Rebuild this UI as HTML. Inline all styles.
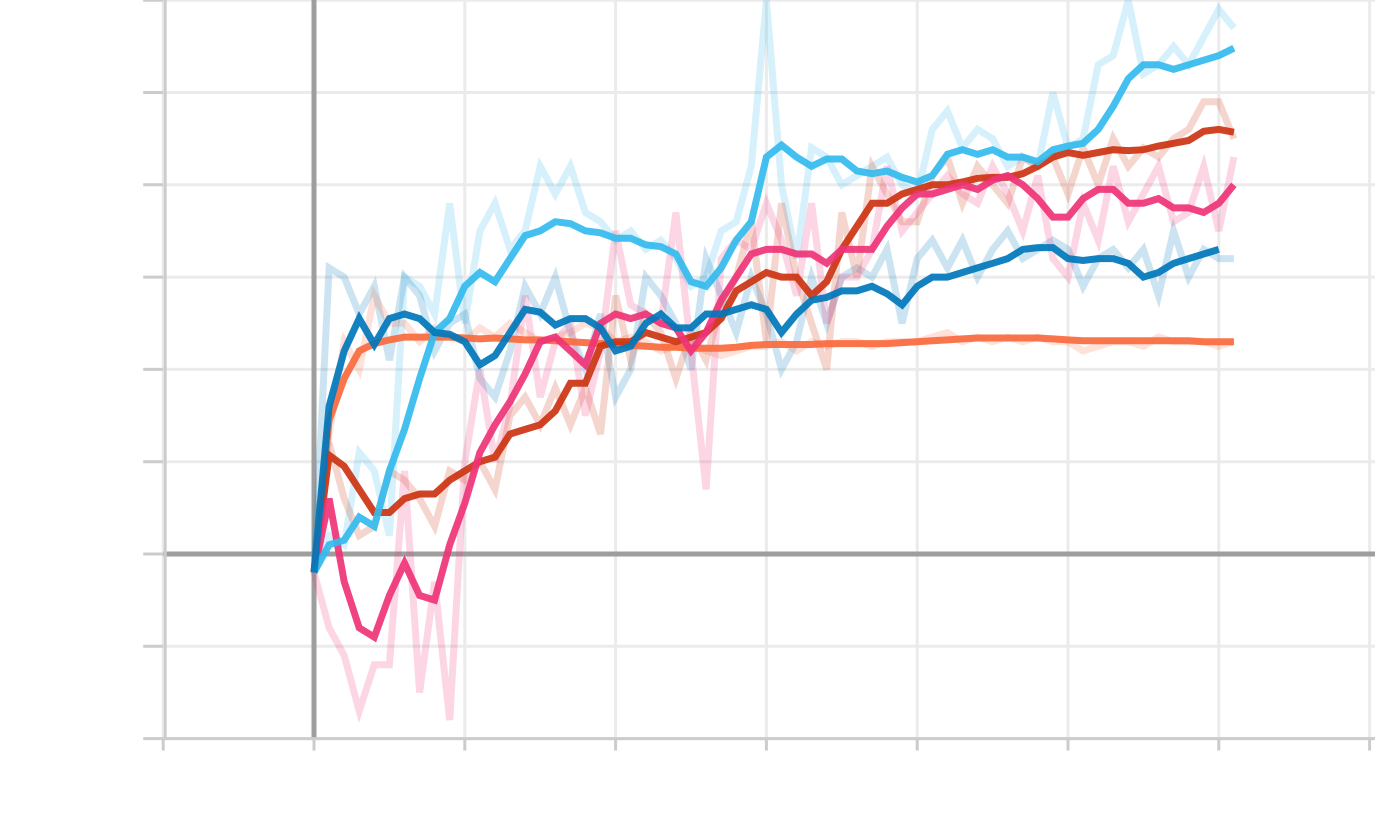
<!DOCTYPE html>
<html><head><meta charset="utf-8"><style>
html,body{margin:0;padding:0;background:#fff;}
svg{display:block;}
</style></head><body>
<svg id="chart" width="1375" height="833" viewBox="0 0 1375 833" xmlns="http://www.w3.org/2000/svg">
<g id="grid"></g>
<g id="raw"></g>
<g id="smooth"></g>
<g id="axes"></g>
</svg>
<script>
const xTicks = [-1,0,1,2,3,4,5,6,7];
const yTicks = [-2,-1,0,1,2,3,4,5,6,7];
const step = 0.1;
const seriesNames = ['light-blue','dark-blue','orange','dark-red','pink'];
const seriesColors = ['#33bbee','#0077bb','#f86a3e','#cc3311','#ee3377'];
const lightBlue = [-0.2,0.1,0.15,0.4,0.3,0.9,1.35,1.9,2.4,2.55,2.9,3.05,2.95,3.2,3.45,3.5,3.6,3.58,3.5,3.48,3.42,3.42,3.35,3.33,3.25,2.95,2.9,3.1,3.4,3.6,4.3,4.43,4.3,4.2,4.28,4.28,4.15,4.12,4.15,4.08,4.03,4.1,4.33,4.38,4.33,4.38,4.3,4.3,4.25,4.38,4.42,4.45,4.6,4.85,5.15,5.3,5.3,5.25,5.3,5.35,5.4,5.48];
const darkBlue = [-0.2,1.6,2.2,2.55,2.27,2.55,2.6,2.55,2.4,2.38,2.3,2.05,2.15,2.4,2.65,2.62,2.48,2.55,2.55,2.45,2.2,2.25,2.5,2.6,2.45,2.45,2.6,2.6,2.65,2.7,2.65,2.4,2.6,2.75,2.78,2.85,2.85,2.9,2.82,2.7,2.9,3.0,3.0,3.05,3.1,3.15,3.2,3.3,3.32,3.32,3.2,3.18,3.2,3.2,3.15,3.0,3.05,3.15,3.2,3.25,3.3];
const orange = [-0.2,1.45,1.9,2.2,2.28,2.32,2.35,2.35,2.35,2.35,2.34,2.33,2.34,2.33,2.32,2.32,2.31,2.3,2.29,2.28,2.27,2.26,2.25,2.24,2.24,2.23,2.23,2.23,2.24,2.26,2.27,2.27,2.27,2.27,2.28,2.28,2.28,2.28,2.28,2.29,2.3,2.31,2.32,2.33,2.34,2.34,2.34,2.34,2.34,2.33,2.32,2.31,2.31,2.31,2.31,2.31,2.31,2.31,2.31,2.3,2.3,2.3];
const darkRed = [-0.2,1.07,0.95,0.7,0.45,0.45,0.6,0.65,0.65,0.8,0.9,1.0,1.05,1.3,1.35,1.4,1.55,1.85,1.85,2.25,2.3,2.3,2.4,2.35,2.3,2.35,2.4,2.55,2.85,2.95,3.05,3.0,3.0,2.8,2.95,3.3,3.55,3.8,3.8,3.9,3.95,4.0,4.0,4.03,4.07,4.08,4.08,4.12,4.2,4.3,4.35,4.32,4.35,4.38,4.37,4.38,4.42,4.45,4.48,4.58,4.6,4.57];
const pink = [-0.2,0.6,-0.3,-0.8,-0.9,-0.45,-0.1,-0.45,-0.5,0.1,0.55,1.1,1.4,1.65,1.95,2.3,2.35,2.2,2.05,2.5,2.6,2.55,2.6,2.5,2.45,2.2,2.4,2.75,3.0,3.25,3.3,3.3,3.25,3.25,3.15,3.3,3.3,3.3,3.55,3.75,3.9,3.9,3.95,4.0,3.95,4.05,4.1,4.0,3.85,3.65,3.65,3.85,3.95,3.95,3.8,3.8,3.85,3.75,3.75,3.7,3.8,4.0];
const lightBlueRaw = [-0.2,0.2,0.1,1.1,0.9,0.2,3.0,2.9,2.6,3.8,2.5,3.5,3.8,3.3,3.5,4.2,3.9,4.2,3.7,3.6,3.4,3.5,3.3,3.4,3.2,2.9,3.0,3.5,3.6,4.2,6.0,4.0,3.2,4.4,4.3,4.0,4.1,4.2,4.3,4.0,3.9,4.6,4.8,4.4,4.6,4.5,4.2,4.3,4.2,5.0,4.4,4.5,5.3,5.4,6.0,5.2,5.3,5.5,5.3,5.6,5.9,5.7];
const darkBlueRaw = [-0.2,3.1,3.0,2.6,2.9,2.1,3.0,2.8,2.2,2.5,2.6,1.9,1.7,2.2,2.9,2.6,3.0,2.4,2.0,2.6,1.7,2.0,3.0,2.8,2.5,2.0,3.2,2.8,2.4,3.0,2.6,2.0,2.3,3.0,2.5,3.0,3.1,3.0,3.3,2.5,3.2,3.4,3.1,3.4,3.0,3.3,3.5,3.2,3.3,3.4,3.3,2.9,3.2,3.3,3.1,3.3,2.8,3.5,3.0,3.3,3.2,3.2];
const orangeRaw = [-0.2,1.3,2.3,2.0,2.8,2.5,2.5,2.3,2.45,2.35,2.3,2.45,2.35,2.5,2.4,2.3,2.35,2.4,2.5,2.45,2.3,2.35,2.3,2.2,2.25,2.3,2.2,2.15,2.2,2.25,2.25,2.3,2.2,2.3,2.25,2.3,2.3,2.25,2.3,2.3,2.3,2.35,2.4,2.3,2.35,2.3,2.35,2.3,2.35,2.3,2.3,2.2,2.25,2.3,2.3,2.25,2.35,2.3,2.3,2.3,2.25,2.3];
const darkRedRaw = [-0.2,1.2,0.6,0.2,0.3,0.9,0.8,0.6,0.3,0.9,0.8,1.0,0.7,1.5,1.7,1.4,1.8,1.4,1.8,1.3,2.8,2.1,2.6,2.4,1.9,2.4,2.1,2.7,3.0,3.6,2.3,3.8,3.0,2.5,2.0,3.7,3.0,4.2,3.9,3.6,3.6,4.1,4.3,3.8,4.2,4.0,3.8,4.3,4.2,4.3,3.9,4.4,4.0,4.5,4.2,4.4,4.3,4.5,4.6,4.9,4.9,4.5];
const pinkRaw = [-0.2,-0.8,-1.1,-1.7,-1.2,-1.2,0.9,-1.5,-0.3,-1.8,1.0,2.0,1.0,1.6,2.8,1.7,2.3,2.5,1.5,2.2,3.5,2.7,2.6,2.5,3.7,2.2,0.7,3.2,3.4,3.3,3.8,3.4,2.8,3.8,2.5,3.0,3.0,3.3,4.2,3.5,3.7,3.9,4.1,3.9,3.8,4.2,3.9,3.5,4.1,3.2,3.0,3.8,3.4,4.2,3.6,3.9,4.2,3.6,3.7,4.2,3.5,4.3];

const NS='http://www.w3.org/2000/svg';
const X0=314, XU=150.8, Y0=554, YU=92.3;
const sx = v => X0 + v*XU;
const sy = v => Y0 - v*YU;
function mk(tag, parent){const e=document.createElementNS(NS,tag);parent.appendChild(e);return e;}
const grid=document.getElementById('grid'), axes=document.getElementById('axes');
xTicks.forEach(t=>{
  const l=mk('line',grid);
  
  
  l.setAttribute('x1',sx(t));l.setAttribute('x2',sx(t));l.setAttribute('y1',0);l.setAttribute('y2',sy(-2));
  l.setAttribute('stroke','#ebebeb');l.setAttribute('stroke-width',3);
  const k=mk('line',axes);
  
  
  k.setAttribute('x1',sx(t));k.setAttribute('x2',sx(t));k.setAttribute('y1',sy(-2));k.setAttribute('y2',sy(-2)+12);
  k.setAttribute('stroke','#cccccc');k.setAttribute('stroke-width',3);
});
yTicks.forEach(t=>{
  const l=mk('line',grid);
  
  
  l.setAttribute('x1',sx(-1));l.setAttribute('x2',1375);l.setAttribute('y1',sy(t));l.setAttribute('y2',sy(t));
  l.setAttribute('stroke','#ebebeb');l.setAttribute('stroke-width',3);
  const k=mk('line',axes);
  
  
  k.setAttribute('x1',sx(-1)-20);k.setAttribute('x2',sx(-1));k.setAttribute('y1',sy(t));k.setAttribute('y2',sy(t));
  k.setAttribute('stroke','#cccccc');k.setAttribute('stroke-width',3);
});
const bl=mk('line',axes);


bl.setAttribute('x1',sx(-1));bl.setAttribute('x2',1375);bl.setAttribute('y1',sy(-2));bl.setAttribute('y2',sy(-2));
bl.setAttribute('stroke','#cccccc');bl.setAttribute('stroke-width',3);
const ll=mk('line',axes);


ll.setAttribute('x1',sx(-1)+2);ll.setAttribute('x2',sx(-1)+2);ll.setAttribute('y1',0);ll.setAttribute('y2',sy(-2));
ll.setAttribute('stroke','#cccccc');ll.setAttribute('stroke-width',3);
const za=mk('line',grid);


za.setAttribute('x1',sx(0));za.setAttribute('x2',sx(0));za.setAttribute('y1',0);za.setAttribute('y2',sy(-2));
za.setAttribute('stroke','#9e9e9e');za.setAttribute('stroke-width',5);
const zb=mk('line',grid);


zb.setAttribute('x1',sx(-1));zb.setAttribute('x2',1375);zb.setAttribute('y1',sy(0));zb.setAttribute('y2',sy(0));
zb.setAttribute('stroke','#9e9e9e');zb.setAttribute('stroke-width',5);

function pts(arr){return arr.map((v,i)=>sx(i*step).toFixed(1)+','+sy(v).toFixed(1)).join(' ');}
const rawSets=[lightBlueRaw,darkBlueRaw,orangeRaw,darkRedRaw,pinkRaw];
const smSets=[lightBlue,darkBlue,orange,darkRed,pink];
const rawG=document.getElementById('raw'), smG=document.getElementById('smooth');
rawSets.forEach((a,k)=>{
  const p=mk('polyline',rawG);
  
  
  p.setAttribute('points',pts(a));p.setAttribute('fill','none');
  p.setAttribute('stroke',seriesColors[k]);p.setAttribute('stroke-opacity',0.2);
  p.setAttribute('stroke-width',7);
});
[2,3,4,0,1].forEach(k=>{
  const p=mk('polyline',smG);
  
  
  p.setAttribute('points',pts(smSets[k]));p.setAttribute('fill','none');
  p.setAttribute('stroke',seriesColors[k]);p.setAttribute('stroke-opacity',0.92);
  p.setAttribute('stroke-width',7);
});
</script>
</body></html>
